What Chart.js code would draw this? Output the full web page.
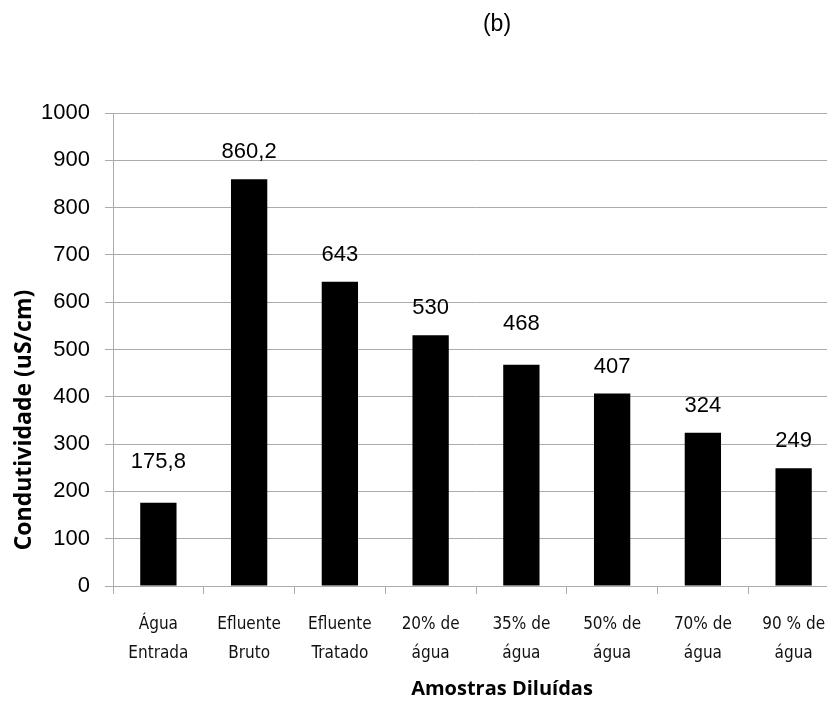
<!DOCTYPE html>
<html>
<head>
<meta charset="utf-8">
<script src="https://cdn.jsdelivr.net/npm/chart.js@4.4.1/dist/chart.umd.min.js"></script>
<style>
  html, body { margin: 0; padding: 0; background: #fff; overflow: hidden; }
  #wrap { position: relative; width: 845px; height: 702px; }
</style>
</head>
<body>
<div id="wrap"><canvas id="condChart"></canvas></div>
<script>
// data
const categories = [
  ['Água', 'Entrada'],
  ['Efluente', 'Bruto'],
  ['Efluente', 'Tratado'],
  ['20% de', 'água'],
  ['35% de', 'água'],
  ['50% de', 'água'],
  ['70% de', 'água'],
  ['90 % de', 'água']
];
const condutividade = [175.8, 860.2, 643, 530, 468, 407, 324, 249];
const valueLabels = ['175,8', '860,2', '643', '530', '468', '407', '324', '249'];
const yTicks = [0, 100, 200, 300, 400, 500, 600, 700, 800, 900, 1000];

// extra lift for labels that were nudged up in the original
const labelLift = [14, 0, 0, 0, 14, 0, 0, 0];

const GRID = '#ababab';

// draws value labels, panel title and axis titles
const annotations = {
  id: 'annotations',
  afterDatasetsDraw(chart) {
    const ctx = chart.ctx;
    const area = chart.chartArea;
    const meta = chart.getDatasetMeta(0);
    ctx.save();
    ctx.fillStyle = '#000';
    ctx.textAlign = 'center';
    ctx.textBaseline = 'middle';
    ctx.font = '22px "Liberation Sans", Arial, sans-serif';
    meta.data.forEach((bar, i) => {
      ctx.fillText(valueLabels[i], bar.x, bar.y - 27 - labelLift[i]);
    });

    ctx.font = '23px "Liberation Sans", Arial, sans-serif';
    ctx.fillText('(b)', 497, 25);

    ctx.font = 'bold 20px "Open Sans", "Liberation Sans", sans-serif';
    ctx.fillText('Amostras Diluídas', 502, 689);

    ctx.font = 'bold 23px "Open Sans", "Liberation Sans", sans-serif';
    ctx.translate(24, area.bottom - 166);
    ctx.rotate(-Math.PI / 2);
    ctx.fillText('Condutividade (uS/cm)', 0, 0);
    ctx.restore();
  }
};

new Chart(document.getElementById('condChart'), {
  type: 'bar',
  data: {
    labels: categories,
    datasets: [{
      data: condutividade,
      backgroundColor: '#000',
      borderWidth: 0,
      barPercentage: 0.8,
      categoryPercentage: 0.5
    }]
  },
  options: {
    responsive: true,
    maintainAspectRatio: false,
    animation: false,
    layout: { padding: { top: 113, right: 6, left: 0, bottom: 0 } },
    plugins: {
      legend: { display: false },
      tooltip: { enabled: false }
    },
    scales: {
      x: {
        offset: true,
        grid: { display: true, drawOnChartArea: false, tickLength: 8, color: GRID, offset: true },
        border: { color: GRID },
        ticks: {
          color: '#111',
          padding: 16,
          maxRotation: 0,
          autoSkip: false,
          font: { family: '"Liberation Sans Narrow", "DejaVu Sans Condensed", "Liberation Sans", sans-serif', size: 17, lineHeight: 1.7 }
        },
        afterFit(scale) { scale.height = 116; }
      },
      y: {
        min: 0,
        max: 1000,
        afterBuildTicks(scale) { scale.ticks = yTicks.map(v => ({ value: v })); },
        grid: { color: GRID, tickLength: 8 },
        border: { color: GRID },
        ticks: {
          color: '#000',
          padding: 15,
          callback: v => String(v),
          font: { family: '"Liberation Sans", Arial, sans-serif', size: 22 }
        },
        afterFit(scale) { scale.width = 113; }
      }
    }
  },
  plugins: [annotations]
});
</script>
</body>
</html>
